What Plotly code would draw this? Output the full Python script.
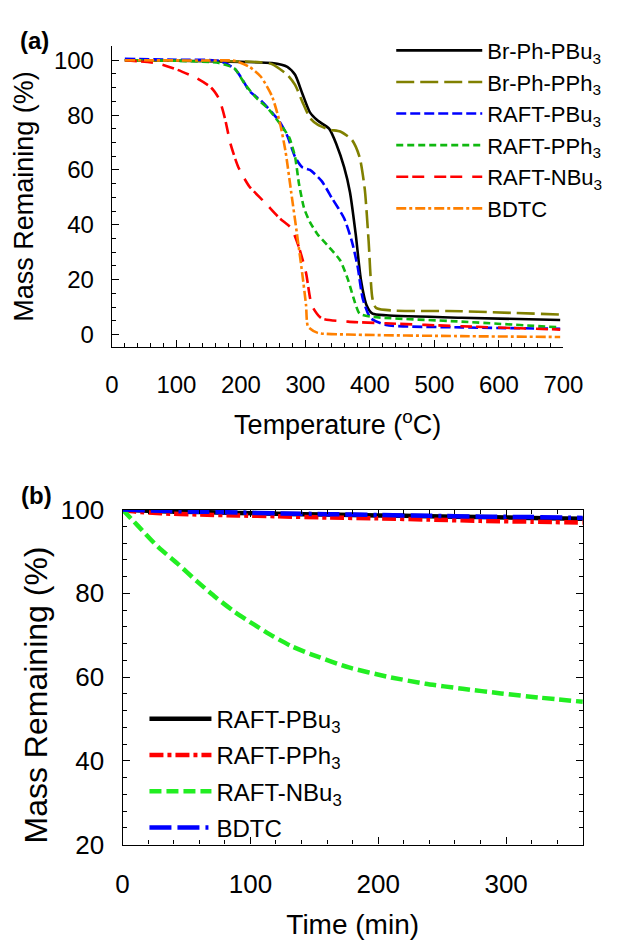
import plotly.graph_objects as go

# ---------------- Panel (a): TGA, mass vs temperature ----------------
temp_brph_pbu3 = [20, 100, 200, 248, 272, 284, 295, 307, 319, 337, 348, 360, 369, 378, 386, 395, 404, 425, 542, 695]
mass_brph_pbu3 = [100, 99.8, 99.4, 99, 97.6, 94.7, 88, 81, 78, 75, 69.4, 61, 52, 36.5, 20, 10.6, 7.6, 7, 6.1, 5.3]

temp_brph_pph3 = [20, 150, 230, 248, 272, 284, 295, 307, 319, 337, 354, 372, 384, 392, 398, 404, 410, 542, 695]
mass_brph_pph3 = [100, 99.8, 99.3, 98.6, 94.7, 91, 85, 79, 76.5, 74.7, 74, 71, 64.7, 53, 34, 13, 9.6, 8.5, 7.3]

temp_raft_pbu3 = [20, 100, 166, 190, 201, 213, 231, 248, 260, 272, 284, 295, 307, 325, 342, 360, 372, 381, 389, 401, 425, 542, 695]
mass_raft_pbu3 = [100.5, 100.2, 99.8, 97, 93.5, 88.8, 85.3, 81, 77.6, 72.4, 64.7, 61, 60, 56, 49.4, 42.4, 34, 24.7, 13, 6, 3.5, 2.6, 2.1]

temp_raft_pph3 = [20, 100, 166, 190, 207, 225, 242, 260, 275, 284, 290, 298, 307, 319, 337, 354, 366, 375, 384, 401, 542, 695]
mass_raft_pph3 = [100, 99.8, 99, 97, 91, 86, 82.4, 77, 71.8, 64.7, 55, 46, 41, 36.5, 31.8, 27, 20, 13, 7.6, 6.5, 4.7, 2.6]

temp_raft_nbu3 = [20, 72, 102, 131, 154, 166, 175, 184, 196, 213, 237, 260, 278, 290, 301, 310, 325, 366, 425, 542, 695]
mass_raft_nbu3 = [100, 98.8, 96.5, 93.5, 90, 86, 79, 69.4, 61, 54, 48.2, 42.4, 38.8, 31.8, 22.4, 10.6, 5.9, 4.7, 4.1, 3, 1.8]

temp_bdtc = [20, 150, 190, 213, 231, 248, 260, 269, 278, 287, 295, 301, 304, 319, 366, 542, 695]
mass_bdtc = [100, 99.9, 99.8, 97.6, 94, 87, 77.6, 67, 51.8, 36.5, 22.4, 10.6, 2.9, 0.6, 0, -0.6, -0.9]

# ---------------- Panel (b): isothermal, mass vs time ----------------
time_raft_pbu3 = [0, 30, 60, 90, 120, 160, 200, 240, 280, 320, 360]
massb_raft_pbu3 = [100, 99.6, 99.4, 99.2, 99.0, 98.8, 98.6, 98.4, 98.2, 98.0, 97.8]

time_raft_pph3 = [0, 10, 30, 60, 90, 120, 160, 200, 240, 280, 320, 360]
massb_raft_pph3 = [100, 99.5, 99.1, 98.8, 98.6, 98.4, 98.1, 97.9, 97.6, 97.3, 97.1, 96.9]

time_raft_nbu3 = [0, 13, 28, 43, 58, 73, 88, 103, 118, 132, 147, 177, 207, 237, 266, 296, 326, 360]
massb_raft_nbu3 = [100, 95.8, 91, 87.1, 82.9, 79, 75.5, 72.5, 69.7, 67.4, 65.5, 62.3, 60.1, 58.4, 57.2, 56.1, 55.1, 54.1]

time_bdtc = [0, 30, 60, 90, 120, 160, 200, 240, 280, 320, 360]
massb_bdtc = [100, 99.7, 99.5, 99.3, 99.1, 98.9, 98.7, 98.5, 98.3, 98.2, 98.0]

FONT = "Liberation Sans, Arial, sans-serif"
W, H = 621, 948

fig = go.Figure()

series_a = [
    ("Br-Ph-PBu<sub>3</sub>", temp_brph_pbu3, mass_brph_pbu3, "#000000", "solid"),
    ("Br-Ph-PPh<sub>3</sub>", temp_brph_pph3, mass_brph_pph3, "#808000", "18px,6px"),
    ("RAFT-PBu<sub>3</sub>", temp_raft_pbu3, mass_raft_pbu3, "#0000FF", "10px,4px"),
    ("RAFT-PPh<sub>3</sub>", temp_raft_pph3, mass_raft_pph3, "#10B810", "7px,4px"),
    ("RAFT-NBu<sub>3</sub>", temp_raft_nbu3, mass_raft_nbu3, "#FF0000", "12px,4px,12px,10px"),
    ("BDTC", temp_bdtc, mass_bdtc, "#FF8000", "10px,3px,3px,3px"),
]
for i, (name, x, y, c, d) in enumerate(series_a):
    fig.add_trace(go.Scatter(
        x=x, y=y, name=name, mode="lines", xaxis="x", yaxis="y",
        line=dict(color=c, dash=d, width=2.6, shape="spline", smoothing=0.6),
        legend="legend", legendgroup="a%d" % i,
    ))

series_b = [
    ("RAFT-PBu<sub>3</sub>", time_raft_pbu3, massb_raft_pbu3, "#000000", "solid"),
    ("RAFT-PPh<sub>3</sub>", time_raft_pph3, massb_raft_pph3, "#FF0000", "14px,4px,4px,4px"),
    ("RAFT-NBu<sub>3</sub>", time_raft_nbu3, massb_raft_nbu3, "#22EE22", "12px,5px"),
    ("BDTC", time_bdtc, massb_bdtc, "#0000FF", "22px,6px,22px,6px,3px,6px"),
]
for i, (name, x, y, c, d) in enumerate(series_b):
    fig.add_trace(go.Scatter(
        x=x, y=y, name=name, mode="lines", xaxis="x2", yaxis="y2",
        line=dict(color=c, dash=d, width=4.5, shape="spline", smoothing=0.6),
        legend="legend2", legendgroup="b%d" % i,
    ))

axis_common = dict(showline=True, linecolor="black", linewidth=1.3, showgrid=False,
                   zeroline=False, ticks="inside", tickcolor="black", tickwidth=1.2)

fig.update_layout(
    width=W, height=H,
    margin=dict(l=0, r=0, t=0, b=0),
    paper_bgcolor="white", plot_bgcolor="white",
    font=dict(family=FONT, color="black"),
    xaxis=dict(domain=[109.7 / W, 581.7 / W], range=[0, 700], anchor="y",
               dtick=100, ticklen=7, tickfont=dict(size=24), ticklabelstandoff=16,
               minor=dict(dtick=20, ticks="inside", ticklen=4, tickcolor="black"),
               title=dict(text="Temperature (<sup>o</sup>C)", font=dict(size=27), standoff=18),
               **axis_common),
    yaxis=dict(domain=[1 - 342.7 / H, 1 - 32.3 / H], range=[-4.5, 105.1], anchor="x",
               dtick=20, ticklen=7, tickfont=dict(size=24), ticklabelstandoff=12,
               minor=dict(dtick=5, ticks="inside", ticklen=4, tickcolor="black"),
               title=dict(text="Mass Remaining (%)", font=dict(size=27), standoff=12),
               **axis_common),
    xaxis2=dict(domain=[120.8 / W, 602 / W], range=[0, 360], anchor="y2", mirror="ticks",
                dtick=100, ticklen=7, tickfont=dict(size=26), ticklabelstandoff=16,
                minor=dict(dtick=20, ticks="inside", ticklen=4, tickcolor="black"),
                title=dict(text="Time (min)", font=dict(size=28), standoff=16),
                **axis_common),
    yaxis2=dict(domain=[1 - 856.7 / H, 1 - 510.7 / H], range=[20, 100], anchor="x2", mirror="ticks",
                dtick=20, ticklen=7, tickfont=dict(size=26), ticklabelstandoff=12,
                minor=dict(dtick=4, ticks="inside", ticklen=4, tickcolor="black"),
                **axis_common),
    legend=dict(x=401.7 / W, y=1 - 15 / H, xanchor="left", yanchor="top",
                bgcolor="rgba(0,0,0,0)", font=dict(size=22), itemwidth=86,
                traceorder="grouped", tracegroupgap=0),
    legend2=dict(x=143.7 / W, y=1 - 704 / H, xanchor="left", yanchor="top",
                 bgcolor="rgba(0,0,0,0)", font=dict(size=24), itemwidth=62,
                 traceorder="grouped", tracegroupgap=2),
    showlegend=True,
    annotations=[
        dict(text="<b>(a)</b>", x=28.7 / W, y=1 - 26 / H, xref="paper", yref="paper",
             showarrow=False, font=dict(size=24), xanchor="center", yanchor="middle"),
        dict(text="<b>(b)</b>", x=30.8 / W, y=1 - 496.7 / H, xref="paper", yref="paper",
             showarrow=False, font=dict(size=24), xanchor="center", yanchor="middle"),
        dict(text="Mass Remaining (%)", x=30 / W, y=1 - 702 / H, xref="paper", yref="paper",
             showarrow=False, font=dict(size=32), textangle=-90,
             xanchor="center", yanchor="middle"),
    ],
)

fig.write_html(
    "out.html",
    config={"displayModeBar": False},
    post_script="document.body.style.margin='0px';document.body.style.overflow='hidden';",
)
